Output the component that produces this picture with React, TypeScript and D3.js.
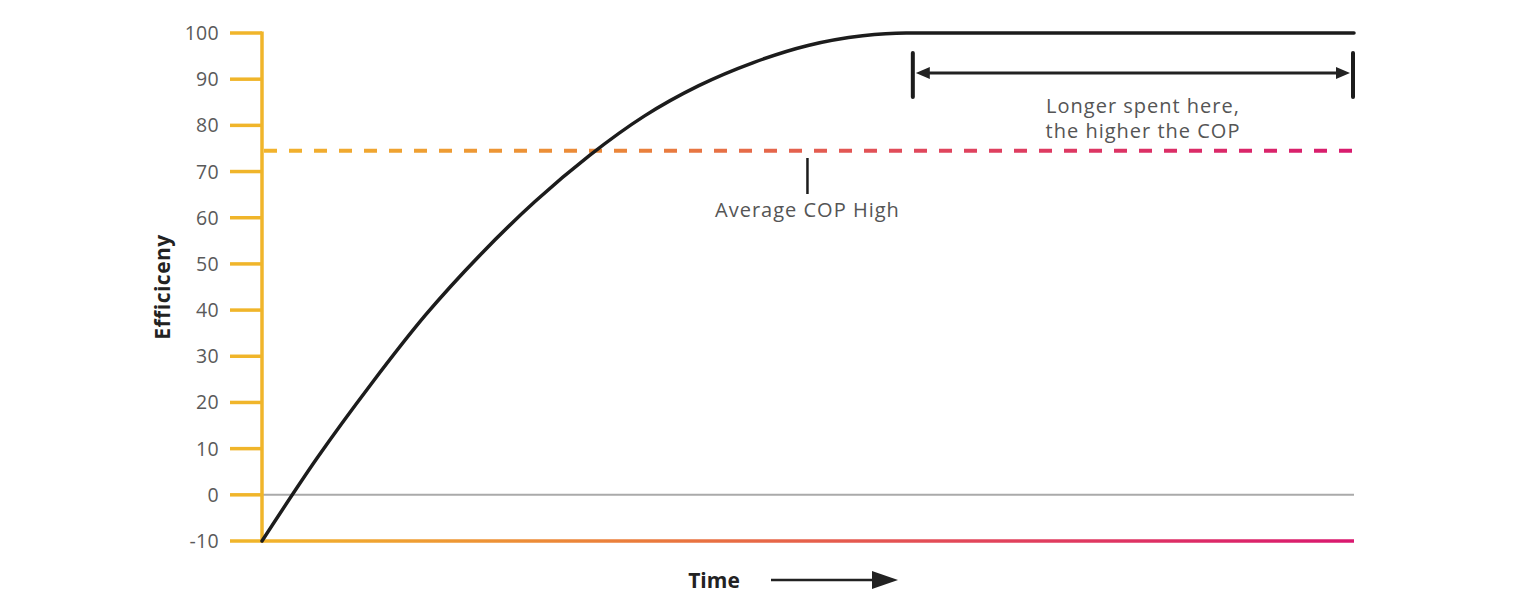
import React from "react";
import * as d3 from "d3";

const yTicks = [-10, 0, 10, 20, 30, 40, 50, 60, 70, 80, 90, 100];
const curveTime = [0, 5, 10, 15, 20, 25, 30, 35, 40, 45, 50, 55, 59, 100];
const curveEff = [-10, 7.8, 24, 39, 52, 63.5, 73.5, 82, 88.6, 93.6, 97.3, 99.4, 100, 100];
const averageCOP = 74.5;
const plateauStart = 59.6;
const plateauEnd = 100;
const labels = {
  y: "Efficiceny",
  x: "Time",
  avg: "Average COP High",
  plateau1: "Longer spent here,",
  plateau2: "the higher the COP",
};

const W = 1536;
const H = 612;
const FONT = "'Open Sans', 'Noto Sans', sans-serif";

export default function App() {
  const x = d3.scaleLinear().domain([0, 100]).range([262, 1354]);
  const y = d3.scaleLinear().domain([-10, 100]).range([541, 33]);
  const pts: [number, number][] = curveTime.map((t, i) => [t, curveEff[i]]);
  const line = d3
    .line<[number, number]>()
    .x((d) => x(d[0]))
    .y((d) => y(d[1]))
    .curve(d3.curveMonotoneX);

  const avgY = y(averageCOP);
  const avgX = x(49.95);
  const brY = 73;
  const bx0 = x(plateauStart);
  const bx1 = x(plateauEnd) - 1;

  return (
    <svg width={W} height={H} style={{ position: "absolute", left: 0, top: 0 }}>
      <defs>
        <linearGradient id="gradDash" gradientUnits="userSpaceOnUse" x1={262} x2={1354} y1={0} y2={0}>
          <stop offset="0%" stopColor="#f2b42c" />
          <stop offset="33%" stopColor="#ea853a" />
          <stop offset="60%" stopColor="#e0485c" />
          <stop offset="100%" stopColor="#d81b6e" />
        </linearGradient>
        <linearGradient id="gradAxis" gradientUnits="userSpaceOnUse" x1={262} x2={1354} y1={0} y2={0}>
          <stop offset="0%" stopColor="#f2b42c" />
          <stop offset="35%" stopColor="#ea7b3c" />
          <stop offset="65%" stopColor="#e2465a" />
          <stop offset="100%" stopColor="#d9186f" />
        </linearGradient>
      </defs>

      {/* zero line */}
      <line x1={262} x2={1354} y1={y(0)} y2={y(0)} stroke="#aaaaaa" strokeWidth={2} />

      {/* average COP dashed line */}
      <line
        x1={264}
        x2={1354}
        y1={avgY}
        y2={avgY}
        stroke="url(#gradDash)"
        strokeWidth={4}
        strokeDasharray="13 12"
      />

      {/* bottom axis */}
      <line x1={262} x2={1354} y1={y(-10)} y2={y(-10)} stroke="url(#gradAxis)" strokeWidth={3.5} />

      {/* y axis */}
      <line x1={262} x2={262} y1={y(100) - 1.5} y2={y(-10) + 1.5} stroke="#f0b52a" strokeWidth={3.5} />
      {yTicks.map((t) => (
        <g key={t}>
          <line x1={230} x2={262} y1={y(t)} y2={y(t)} stroke="#f0b52a" strokeWidth={3.5} />
          <text
            x={219}
            y={y(t)}
            dy="0.36em"
            textAnchor="end"
            fontFamily={FONT}
            fontSize={19.5}
            letterSpacing={0.3}
            fill="#5a5a5a"
          >
            {t}
          </text>
        </g>
      ))}

      {/* curve */}
      <path d={line(pts) || ""} fill="none" stroke="#1c1c1c" strokeWidth={3.5} strokeLinecap="round" />

      {/* average annotation */}
      <line x1={avgX} x2={avgX} y1={158} y2={194} stroke="#1c1c1c" strokeWidth={2.5} />
      <text x={avgX} y={217} textAnchor="middle" fontFamily={FONT} fontSize={20} letterSpacing={1} fill="#555">
        {labels.avg}
      </text>

      {/* plateau bracket */}
      <line x1={bx0} x2={bx0} y1={53} y2={97} stroke="#1c1c1c" strokeWidth={4} strokeLinecap="round" />
      <line x1={bx1} x2={bx1} y1={53} y2={97} stroke="#1c1c1c" strokeWidth={4} strokeLinecap="round" />
      <line x1={bx0 + 12} x2={bx1 - 12} y1={brY} y2={brY} stroke="#222" strokeWidth={3} />
      <path d={`M${bx0 + 3},${brY} L${bx0 + 17},${brY - 6} L${bx0 + 17},${brY + 6} Z`} fill="#222" />
      <path d={`M${bx1 - 3},${brY} L${bx1 - 17},${brY - 6} L${bx1 - 17},${brY + 6} Z`} fill="#222" />
      <text x={1143} y={113} textAnchor="middle" fontFamily={FONT} fontSize={20} letterSpacing={1} fill="#555">
        {labels.plateau1}
      </text>
      <text x={1143} y={138} textAnchor="middle" fontFamily={FONT} fontSize={20} letterSpacing={1} fill="#555">
        {labels.plateau2}
      </text>

      {/* axis titles */}
      <text
        transform={`translate(170, 287) rotate(-90)`}
        textAnchor="middle"
        fontFamily={FONT}
        fontWeight={700}
        fontSize={21}
        letterSpacing={0.5}
        fill="#222"
      >
        {labels.y}
      </text>
      <text x={714} y={588} textAnchor="middle" fontFamily={FONT} fontWeight={700} fontSize={21} fill="#222">
        {labels.x}
      </text>
      <line x1={771} x2={875} y1={580} y2={580} stroke="#222" strokeWidth={2.5} />
      <path d="M872,571 L898,580 L872,589 Z" fill="#222" />
    </svg>
  );
}
